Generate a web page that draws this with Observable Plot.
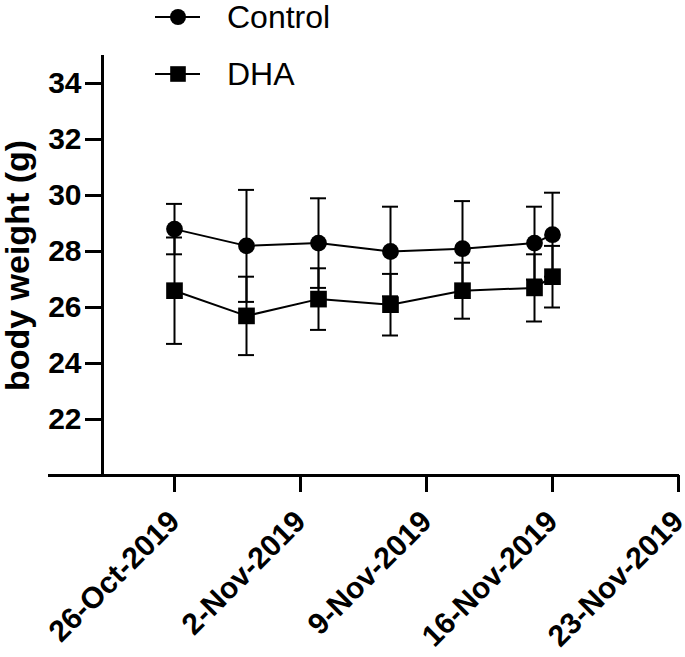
<!DOCTYPE html>
<html>
<head>
<meta charset="utf-8">
<script src="https://cdn.jsdelivr.net/npm/d3@7"></script>
<script src="https://cdn.jsdelivr.net/npm/@observablehq/plot@0.6"></script>
<style>
  html, body { margin: 0; padding: 0; background: #fff; }
  #wrap { position: relative; width: 685px; height: 657px; font-family: "Liberation Sans", Arial, sans-serif; }
  #legend { position: absolute; left: 0; top: 0; }
</style>
</head>
<body>
<div id="wrap"><div id="chart"></div><div id="legend"></div></div>
<script>
// ---- data ----
const dates = ["2019-10-26", "2019-10-30", "2019-11-03", "2019-11-07", "2019-11-11", "2019-11-15", "2019-11-16"];
const series = ["Control", "DHA"];
const controlMean = [28.8, 28.2, 28.3, 28.0, 28.1, 28.3, 28.6];
const controlSD   = [0.9, 2.0, 1.6, 1.6, 1.7, 1.3, 1.5];
const dhaMean     = [26.6, 25.7, 26.3, 26.1, 26.6, 26.7, 27.1];
const dhaSD       = [1.9, 1.4, 1.1, 1.1, 1.0, 1.2, 1.1];
const xTickDates  = ["2019-10-26", "2019-11-02", "2019-11-09", "2019-11-16", "2019-11-23"];
const xDomain     = ["2019-10-22", "2019-11-23"];
const yTicks      = [22, 24, 26, 28, 30, 32, 34];
const yDomain     = [20, 35];
const yLabel      = "body weight (g)";

// ---- build rows ----
const parse = d3.utcParse("%Y-%m-%d");
const means = {Control: controlMean, DHA: dhaMean};
const sds = {Control: controlSD, DHA: dhaSD};
const rows = [];
for (const g of series) {
  dates.forEach((d, i) => {
    const m = means[g][i], s = sds[g][i];
    rows.push({group: g, date: parse(d), mean: m, lo: m - s, hi: m + s});
  });
}
const font = "'Liberation Sans', Arial, sans-serif";
const fmt = d3.utcFormat("%-d-%b-%Y");

const chart = Plot.plot({
  width: 685,
  height: 657,
  marginLeft: 102,
  marginRight: 7,
  marginTop: 55,
  marginBottom: 182,
  style: {fontFamily: font, color: "black", background: "white", overflow: "visible"},
  x: {type: "utc", domain: xDomain.map(parse), axis: null},
  y: {domain: yDomain, axis: null},
  marks: [
    // axes lines
    Plot.ruleY([yDomain[0]], {insetLeft: -54, insetRight: -1, stroke: "black", strokeWidth: 3}),
    Plot.ruleX([parse(xDomain[0])], {stroke: "black", strokeWidth: 3}),
    Plot.axisY({ticks: yTicks, tickSize: 17, tickPadding: 4, fontSize: 30, fontWeight: "bold", strokeWidth: 3, label: null}),
    Plot.axisX({ticks: xTickDates.map(parse), tickSize: 17, tickRotate: -45, tickPadding: 24, tickFormat: fmt, fontSize: 30, fontWeight: "bold", strokeWidth: 3, label: null}),
    Plot.text([yLabel], {frameAnchor: "left", textAnchor: "middle", rotate: -90, dx: -84, fontSize: 34, fontWeight: "bold", fill: "black"}),
    // error bars
    Plot.ruleX(rows, {x: "date", y1: "lo", y2: "hi", stroke: "black", strokeWidth: 2}),
    Plot.ruleY(rows, {y: "hi", x1: "date", x2: "date", insetLeft: -8, insetRight: -8, stroke: "black", strokeWidth: 2}),
    Plot.ruleY(rows, {y: "lo", x1: "date", x2: "date", insetLeft: -8, insetRight: -8, stroke: "black", strokeWidth: 2}),
    // lines
    Plot.line(rows, {x: "date", y: "mean", z: "group", stroke: "black", strokeWidth: 2}),
    // markers
    Plot.dot(rows, {filter: d => d.group === "Control", x: "date", y: "mean", symbol: "circle", r: 8.4, fill: "black", stroke: "none"}),
    Plot.dot(rows, {filter: d => d.group === "DHA", x: "date", y: "mean", symbol: "square", r: 9.4, fill: "black", stroke: "none"})
  ]
});
document.getElementById("chart").appendChild(chart);

// ---- legend ----
const lg = d3.select("#legend").append("svg").attr("width", 360).attr("height", 100)
  .style("font-family", font);
const symbols = {Control: "circle", DHA: "square"};
series.forEach((g, i) => {
  const cy = 17 + 57 * i;
  const item = lg.append("g");
  item.append("line").attr("x1", 155).attr("x2", 200).attr("y1", cy).attr("y2", cy)
    .attr("stroke", "black").attr("stroke-width", 2);
  if (symbols[g] === "circle") {
    item.append("circle").attr("cx", 178).attr("cy", cy).attr("r", 8).attr("fill", "black");
  } else {
    item.append("rect").attr("x", 178 - 7.8).attr("y", cy - 7.8).attr("width", 15.6).attr("height", 15.6).attr("fill", "black");
  }
  item.append("text").attr("x", 227).attr("y", cy + 10.5).attr("font-size", 32).attr("fill", "black").text(g);
});
</script>
</body>
</html>
